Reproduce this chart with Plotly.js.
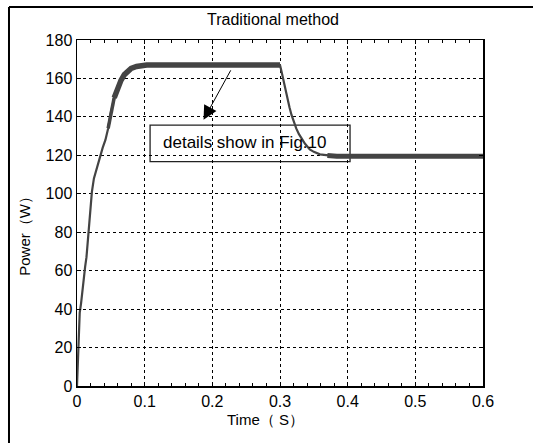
<!DOCTYPE html>
<html>
<head>
<meta charset="utf-8">
<script src="https://cdn.plot.ly/plotly-3.0.1.min.js"></script>
<style>html,body{margin:0;padding:0;background:#fff;}#chart{width:533px;height:443px;}</style>
</head>
<body>
<div id="chart"></div>
<script>
// Simulated PV power response (traditional method)
const timeS = [0,0.001,0.002,0.003,0.004,0.006,0.008,0.010,0.012,0.014,0.016,0.018,0.020,0.022,0.025,0.028,0.031,0.034,0.038,0.042,0.046,0.050,0.055,0.060,0.065,0.070,0.075,0.080,0.088,0.095,0.103,0.15,0.2,0.25,0.3,0.302,0.305,0.308,0.311,0.314,0.317,0.320,0.324,0.328,0.332,0.337,0.344,0.350,0.359,0.370,0.384,0.45,0.5,0.55,0.6];
const powerW = [0,8,18,28,38,43,50,56,62,67,76,84,93,101,108,112,116,120,124,128,134,142,150,155,159,162,164,165.2,166.2,166.8,167,167,167,167,167,164,159,154,149.5,145,141,137.5,134,131,128.5,126,123.1,121.8,120.5,119.9,119.5,119.5,119.5,119.5,119.5];
// heavy ripple segments (thick band)
const rippleTime1 = [0.046,0.050,0.055,0.060,0.065,0.070,0.075,0.080,0.088,0.095,0.103,0.15,0.2,0.25,0.3];
const ripplePower1 = [134,142,150,155,159,162,164,165.2,166.2,166.8,167,167,167,167,167];
const rippleTime2 = [0.37,0.384,0.45,0.5,0.55,0.6];
const ripplePower2 = [119.9,119.5,119.5,119.5,119.5,119.5];
const xTicks = [0,0.1,0.2,0.3,0.4,0.5,0.6];
const xTickText = ['0','0.1','0.2','0.3','0.4','0.5','0.6'];
const yTicks = [0,20,40,60,80,100,120,140,160,180];

const lineColor = '#444444';
const fam = 'Liberation Sans, Arial, sans-serif';
const tickFont = {family: fam, size: 16, color: '#000'};
const labelFont = {family: fam, size: 15, color: '#000'};

const traces = [
  {x: timeS, y: powerW, mode: 'lines', line: {color: lineColor, width: 2.2}, hoverinfo: 'skip'},
  {x: rippleTime1.slice(0, 3), y: ripplePower1.slice(0, 3), mode: 'lines', line: {color: lineColor, width: 3.5}, hoverinfo: 'skip'},
  {x: rippleTime1.slice(2), y: ripplePower1.slice(2), mode: 'lines', line: {color: lineColor, width: 5.5}, hoverinfo: 'skip'},
  {x: rippleTime2, y: ripplePower2, mode: 'lines', line: {color: lineColor, width: 5}, hoverinfo: 'skip'}
];

const axisCommon = {
  showline: true, linecolor: '#000', linewidth: 1.5, mirror: 'ticks',
  ticks: 'inside', ticklen: 4, tickcolor: '#000', tickwidth: 1,
  showgrid: true, gridcolor: '#000', gridwidth: 1, griddash: 'dot',
  zeroline: false, tickfont: tickFont
};

const layout = {
  width: 533, height: 443,
  margin: {l: 77, r: 50, t: 40, b: 57},
  paper_bgcolor: '#fff', plot_bgcolor: '#fff',
  showlegend: false,
  font: labelFont,
  title: {text: 'Traditional method', font: {family: fam, size: 16, color: '#000'}, x: 273 / 533, xanchor: 'center', y: 1 - 19 / 443, yanchor: 'middle'},
  xaxis: Object.assign({}, axisCommon, {
    range: [0, 0.6], tickvals: xTicks, ticktext: xTickText,
    minor: {dtick: 0.02, ticks: 'inside', ticklen: 3, tickcolor: '#000', showgrid: false}
  }),
  yaxis: Object.assign({}, axisCommon, {
    range: [0, 180], tickvals: yTicks
  }),
  shapes: [
    {type: 'line', xref: 'paper', yref: 'paper', x0: -0.1675, x1: -0.1675, y0: -0.3, y1: 1.0952,
     line: {color: '#000', width: 2}, layer: 'above'},
    {type: 'line', xref: 'paper', yref: 'paper', x0: -0.1675, x1: 1.3, y0: 1.0952, y1: 1.0952,
     line: {color: '#000', width: 2}, layer: 'above'},
    {type: 'rect', xref: 'x', yref: 'y', x0: 0.108, x1: 0.4035, y0: 116.7, y1: 135.7,
     line: {color: '#222', width: 1.3}, fillcolor: 'rgba(0,0,0,0)', layer: 'below'}
  ],
  annotations: [
    {x: (265 - 77) / 406, y: (386.5 - 420) / 346.5, xref: 'paper', yref: 'paper', xanchor: 'center', yanchor: 'middle',
     text: 'Time（ S）', showarrow: false, font: labelFont},
    {x: (25 - 77) / 406, y: (386.5 - 232) / 346.5, xref: 'paper', yref: 'paper', xanchor: 'center', yanchor: 'middle',
     text: 'Power（W）', textangle: -90, showarrow: false, font: labelFont},
    {x: 0.1237, y: 126.6, xref: 'x', yref: 'y', text: 'details show in Fig.10', showarrow: false,
     xanchor: 'left', yanchor: 'middle', font: {family: fam, size: 17, color: '#000'}},
    {x: 0.187, y: 138.5, xref: 'x', yref: 'y', ax: 0.2284, ay: 165, axref: 'x', ayref: 'y',
     text: '', showarrow: true, arrowhead: 2, arrowsize: 2.8, arrowwidth: 1, arrowcolor: '#000'}
  ]
};

Plotly.newPlot('chart', traces, layout, {displayModeBar: false, staticPlot: true});
</script>
</body>
</html>
